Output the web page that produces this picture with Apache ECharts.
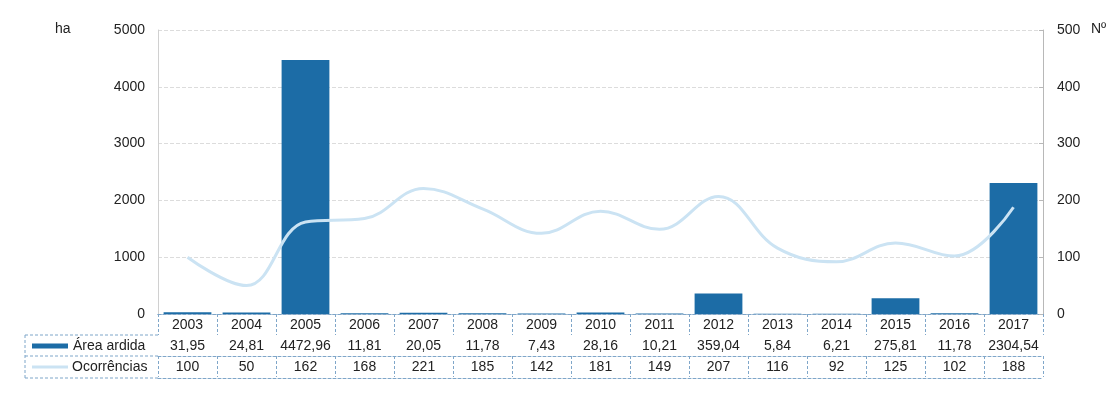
<!DOCTYPE html>
<html>
<head>
<meta charset="utf-8">
<script src="https://cdn.jsdelivr.net/npm/echarts@6/dist/echarts.min.js"></script>
<style>
  html, body { margin: 0; padding: 0; background: #fff; }
  #chart { width: 1120px; height: 403px; }
</style>
</head>
<body>
<div id="chart"></div>
<script>
  // data
  var years = ['2003', '2004', '2005', '2006', '2007', '2008', '2009', '2010', '2011', '2012', '2013', '2014', '2015', '2016', '2017'];
  var areaArdida = [31.95, 24.81, 4472.96, 11.81, 20.05, 11.78, 7.43, 28.16, 10.21, 359.04, 5.84, 6.21, 275.81, 11.78, 2304.54];
  var ocorrencias = [100, 50, 162, 168, 221, 185, 142, 181, 149, 207, 116, 92, 125, 102, 188];

  var fontFam = '"Liberation Sans", Arial, sans-serif';
  var tableLine = { color: '#7fa6c9', width: 1, type: [3, 2] };
  var barColor = '#1c6ca6';
  var lineColor = '#cbe3f3';

  function comma(v) {
    return v.toFixed(2).replace('.', ',');
  }

  var chart = echarts.init(document.getElementById('chart'), null, { renderer: 'canvas' });

  // one row of the data table = one category axis under the grid
  function tableAxis(data, offset, showLabel) {
    return {
      type: 'category',
      position: 'bottom',
      offset: offset,
      data: data,
      axisLine: { show: true, lineStyle: tableLine },
      axisTick: { show: showLabel, interval: 0, length: 21, lineStyle: tableLine },
      axisLabel: { show: showLabel, interval: 0, margin: 4, color: '#222', fontSize: 14, fontFamily: fontFam },
      splitLine: { show: false }
    };
  }

  chart.setOption({
    animation: false,
    grid: { left: 158, right: 77, top: 30, bottom: 89 },
    xAxis: [
      tableAxis(years, 0, true),
      tableAxis(areaArdida.map(comma), 21, true),
      tableAxis(ocorrencias.map(String), 42, true),
      tableAxis(years, 64, false)
    ],
    yAxis: [
      {
        type: 'value',
        min: 0,
        max: 5000,
        interval: 1000,
        axisLine: { show: true, lineStyle: { color: '#d0d0d0' } },
        axisTick: { show: false },
        axisLabel: { color: '#222', fontSize: 14, fontFamily: fontFam, margin: 13, formatter: function (v) { return String(v); } },
        splitLine: { lineStyle: { color: '#dcdcdc', type: [4, 2] } }
      },
      {
        type: 'value',
        min: 0,
        max: 500,
        interval: 100,
        axisLine: { show: true, lineStyle: { color: '#b8b8b8' } },
        axisTick: { show: true, inside: true, length: 4, lineStyle: { color: '#b8b8b8' } },
        axisLabel: { color: '#222', fontSize: 14, fontFamily: fontFam, margin: 14 },
        splitLine: { show: false }
      }
    ],
    series: [
      {
        name: 'Área ardida',
        type: 'bar',
        xAxisIndex: 0,
        yAxisIndex: 0,
        barCategoryGap: '19%',
        itemStyle: { color: barColor },
        data: areaArdida
      },
      {
        name: 'Ocorrências',
        type: 'line',
        xAxisIndex: 0,
        yAxisIndex: 1,
        smooth: 0.4,
        symbol: 'none',
        lineStyle: { color: lineColor, width: 3 },
        data: ocorrencias
      }
    ],
    graphic: [
      { type: 'text', left: 55, top: 22, style: { text: 'ha', fill: '#222', font: '14px ' + fontFam } },
      { type: 'text', left: 1091, top: 22, style: { text: 'Nº', fill: '#222', font: '14px ' + fontFam } },
      // legend cells of the table
      { type: 'line', shape: { x1: 25, y1: 335, x2: 158, y2: 335 }, style: { stroke: tableLine.color, lineDash: [3, 2] } },
      { type: 'line', shape: { x1: 25, y1: 356, x2: 158, y2: 356 }, style: { stroke: tableLine.color, lineDash: [3, 2] } },
      { type: 'line', shape: { x1: 25, y1: 378, x2: 158, y2: 378 }, style: { stroke: tableLine.color, lineDash: [3, 2] } },
      { type: 'line', shape: { x1: 25, y1: 335, x2: 25, y2: 378 }, style: { stroke: tableLine.color, lineDash: [3, 2] } },
      { type: 'line', shape: { x1: 32, y1: 346, x2: 68, y2: 346 }, style: { stroke: barColor, lineWidth: 5 } },
      { type: 'text', left: 73, top: 339, style: { text: 'Área ardida', fill: '#222', font: '14px ' + fontFam } },
      { type: 'line', shape: { x1: 32, y1: 367, x2: 68, y2: 367 }, style: { stroke: lineColor, lineWidth: 3 } },
      { type: 'text', left: 72, top: 360, style: { text: 'Ocorrências', fill: '#222', font: '14px ' + fontFam } }
    ]
  });

  window.addEventListener('resize', function () {
    chart.resize();
  });
</script>
</body>
</html>
